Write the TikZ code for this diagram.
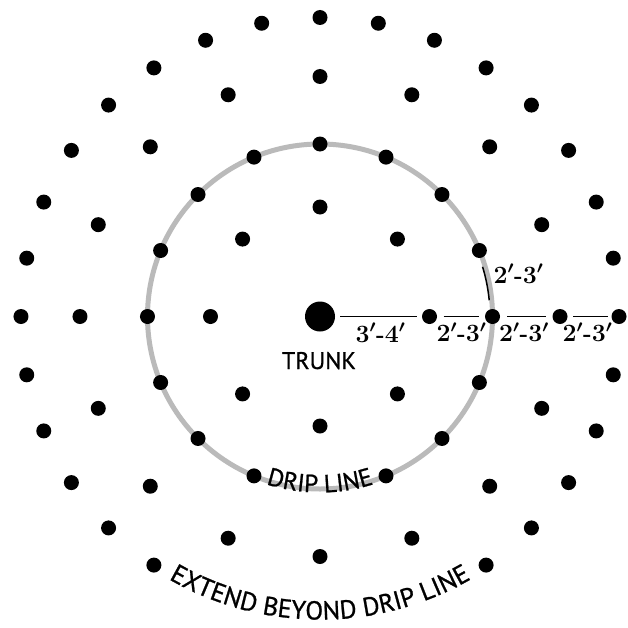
\documentclass[tikz,border=0pt]{standalone}
\usepackage{fontspec}
\newfontfamily\medsans{PT Sans}[FakeBold=0.9]
\usetikzlibrary{decorations.text}
\tikzset{
  dot/.style={circle, fill=black, inner sep=0pt, minimum size=15pt},
  trunkdot/.style={circle, fill=black, inner sep=0pt, minimum size=30pt},
  measure/.style={line width=1.2pt, black},
  dim/.style={font=\fontsize{23}{23}\selectfont\bfseries\boldmath, inner sep=0pt, anchor=base},
  title/.style={font=\medsans\fontsize{24}{24}\selectfont, inner sep=0pt, anchor=base},
  dripcircle/.style={draw=black!27, line width=5pt}
}
\begin{document}
\begin{tikzpicture}[x=1pt,y=1pt]
\useasboundingbox (-320,-310.5) rectangle (308,316.5);
% drip line circle
\draw[dripcircle] (0,0) circle[radius=172.5pt];
% black arc segment (2'-3' spacing on drip line)
\draw[line width=1.5pt] (5.5:170pt) arc[start angle=5.5, end angle=17, radius=170pt];
% trunk
\node[trunkdot] (trunk) at (0,0) {};
% ring 1
\foreach \i in {0,...,7}
  \node[dot] (a\i) at (\i*45:109.5pt) {};
% ring 2 (drip line)
\foreach \i in {0,...,11,13,14,15}
  \node[dot] (b\i) at (\i*22.5:172.5pt) {};
% ring 3
\foreach \i in {0,...,15}
  \node[dot] (c\i) at (\i*22.5:240pt) {};
% ring 4
\foreach \i in {0,...,21,27,28,29,30,31}
  \node[dot] (d\i) at (\i*11.25:299pt) {};
% measuring lines
\draw[measure, shorten <=5pt, shorten >=4.5pt] (trunk) -- (a0);
\draw[measure, shorten <=6.5pt, shorten >=6pt] (a0) -- (b0);
\draw[measure, shorten <=7pt, shorten >=6.5pt] (b0) -- (c0);
\draw[measure, shorten <=5.5pt, shorten >=3.5pt] (c0) -- (d0);
% labels
\node[dim] (l1) at (60.5,-25.5) {$3'$-$4'$};
\node[dim] (l2) at (141.5,-25) {$2'$-$3'$};
\node[dim] (l3) at (204,-25) {$2'$-$3'$};
\node[dim] (l4) at (267.5,-25) {$2'$-$3'$};
\node[dim] (l5) at (198.5,33.5) {$2'$-$3'$};
\node[title] (trunklabel) at (-1,-52.5) {TRUNK};
% curved labels
\path[decorate, decoration={text along path, text align=center,
  text={|\medsans\fontsize{25}{25}\selectfont|DRIP LINE}}]
  (240:176pt) arc[start angle=240, end angle=300, radius=176pt];
\path[decorate, decoration={text along path, text align=center,
  text={|\medsans\fontsize{26}{26}\selectfont|EXTEND BEYOND DRIP LINE}}]
  (210:303pt) arc[start angle=210, end angle=330, radius=303pt];
\end{tikzpicture}
\end{document}
